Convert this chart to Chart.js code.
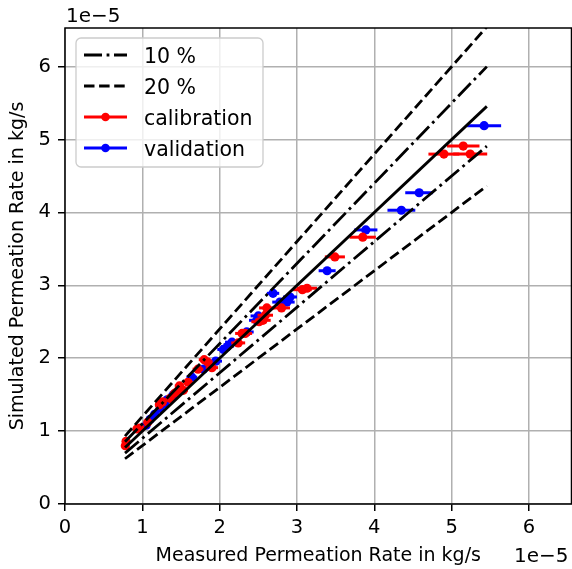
<!DOCTYPE html>
<html>
<head>
<meta charset="utf-8">
<script src="https://cdn.jsdelivr.net/npm/chart.js@4.4.0/dist/chart.umd.min.js"></script>
<style>
  html, body { margin: 0; padding: 0; background: #fff; }
  #wrap { width: 572px; height: 569px; }
</style>
</head>
<body>
<div id="wrap"><canvas id="chart" width="572" height="569"></canvas></div>
<script>
// all rates in units of 1e-5 kg/s
var calMeasured  = [0.78, 0.79, 0.93, 0.97, 1.07, 1.22, 1.26, 1.36, 1.42, 1.46, 1.48, 1.53, 1.59, 1.72, 1.80, 1.84, 1.90, 2.24, 2.29, 2.33, 2.51, 2.56, 2.59, 2.61, 2.80, 3.07, 3.13, 3.49, 3.85, 4.90, 5.15, 5.24];
var calSimulated = [0.80, 0.86, 1.03, 1.04, 1.12, 1.36, 1.40, 1.45, 1.52, 1.55, 1.62, 1.56, 1.67, 1.85, 1.98, 1.95, 1.87, 2.21, 2.34, 2.34, 2.50, 2.52, 2.59, 2.69, 2.69, 2.94, 2.96, 3.39, 3.66, 4.80, 4.91, 4.80];
var calErr       = [0.03, 0.03, 0.04, 0.04, 0.04, 0.05, 0.05, 0.05, 0.06, 0.06, 0.06, 0.06, 0.06, 0.07, 0.07, 0.07, 0.08, 0.09, 0.09, 0.09, 0.10, 0.10, 0.10, 0.10, 0.11, 0.12, 0.13, 0.13, 0.17, 0.20, 0.21, 0.22];

var valMeasured  = [1.05, 1.10, 1.16, 1.23, 1.29, 1.32, 1.40, 1.49, 1.64, 1.79, 1.95, 2.05, 2.10, 2.16, 2.35, 2.48, 2.50, 2.69, 2.78, 2.87, 2.91, 3.39, 3.89, 4.35, 4.58, 5.42];
var valSimulated = [1.08, 1.16, 1.23, 1.31, 1.38, 1.43, 1.50, 1.59, 1.74, 1.85, 1.96, 2.12, 2.16, 2.22, 2.36, 2.52, 2.58, 2.89, 2.77, 2.77, 2.84, 3.20, 3.76, 4.03, 4.27, 5.19];
var valErr       = [0.04, 0.04, 0.05, 0.05, 0.05, 0.05, 0.06, 0.06, 0.07, 0.07, 0.08, 0.08, 0.08, 0.09, 0.09, 0.10, 0.10, 0.08, 0.10, 0.10, 0.09, 0.11, 0.15, 0.18, 0.18, 0.22];

var lineEnds = [0.776, 5.455];
var tickValues = [0, 1, 2, 3, 4, 5, 6];
var legendLabels = ['10 %', '20 %', 'calibration', 'validation'];

var FONT = 'DejaVu Sans';
var dashDot = [18, 4.6, 2.8, 4.6];
var dashed = [10.5, 4.6];

function points(xs, ys) {
    return xs.map(function (v, i) { return { x: v, y: ys[i] }; });
}

function refLine(f) {
    return lineEnds.map(function (v) { return { x: v, y: v * f }; });
}

function lineSet(f, dash) {
    return {
        data: refLine(f),
        showLine: true,
        borderColor: '#000',
        borderWidth: 2.8,
        borderDash: dash,
        borderCapStyle: 'butt',
        pointRadius: 0
    };
}

function pointSet(xs, ys, err, color) {
    return {
        data: points(xs, ys),
        xErr: err,
        showLine: false,
        pointRadius: 4.6,
        pointBackgroundColor: color,
        pointBorderWidth: 0,
        backgroundColor: color,
        borderColor: color
    };
}

// horizontal error bars, drawn right before the markers of a dataset
var errorBars = {
    id: 'errorBars',
    beforeDatasetDraw: function (chart, args) {
        var ds = chart.data.datasets[args.index];
        if (!ds.xErr) return;
        var sx = chart.scales.x, sy = chart.scales.y, c = chart.ctx;
        c.save();
        c.strokeStyle = ds.backgroundColor;
        c.lineWidth = 3;
        ds.data.forEach(function (p, i) {
            var py = sy.getPixelForValue(p.y);
            c.beginPath();
            c.moveTo(sx.getPixelForValue(p.x - ds.xErr[i]), py);
            c.lineTo(sx.getPixelForValue(p.x + ds.xErr[i]), py);
            c.stroke();
        });
        c.restore();
    }
};

// axes frame, offset texts and a matplotlib style legend
var decorations = {
    id: 'decorations',
    afterDraw: function (chart) {
        var c = chart.ctx, a = chart.chartArea;
        c.save();
        c.strokeStyle = '#000';
        c.lineWidth = 1.5;
        c.strokeRect(a.left, a.top, a.right - a.left, a.bottom - a.top);

        c.fillStyle = '#000';
        c.font = '20px "' + FONT + '"';
        c.textBaseline = 'alphabetic';
        c.textAlign = 'left';
        c.fillText('1e\u22125', a.left + 1, 22);
        c.textAlign = 'right';
        c.fillText('1e\u22125', a.right - 3, 562);

        // legend box
        var bx = 76, by = 38, bw = 187, bh = 129, r = 5;
        c.beginPath();
        c.moveTo(bx + r, by);
        c.arcTo(bx + bw, by, bx + bw, by + bh, r);
        c.arcTo(bx + bw, by + bh, bx, by + bh, r);
        c.arcTo(bx, by + bh, bx, by, r);
        c.arcTo(bx, by, bx + bw, by, r);
        c.closePath();
        c.fillStyle = 'rgba(255,255,255,0.8)';
        c.fill();
        c.strokeStyle = '#cccccc';
        c.lineWidth = 1.3;
        c.stroke();

        var rows = [55, 86, 117, 148];
        var styles = [
            { dash: dashDot, color: '#000', marker: false },
            { dash: dashed, color: '#000', marker: false },
            { dash: [], color: '#ff0000', marker: true },
            { dash: [], color: '#0000ff', marker: true }
        ];
        c.font = '20.5px "' + FONT + '"';
        rows.forEach(function (y, i) {
            var s = styles[i];
            c.strokeStyle = s.color;
            c.lineWidth = 2.8;
            c.lineCap = 'butt';
            c.setLineDash(s.dash);
            c.beginPath();
            c.moveTo(84, y);
            c.lineTo(127, y);
            c.stroke();
            c.setLineDash([]);
            if (s.marker) {
                c.fillStyle = s.color;
                c.beginPath();
                c.arc(105.5, y, 4.3, 0, Math.PI * 2);
                c.fill();
            }
            c.fillStyle = '#000';
            c.textAlign = 'left';
            c.fillText(legendLabels[i], 144, y + 8);
        });
        c.restore();
    }
};

var tickFont = { family: FONT, size: 19.5 };
var titleFont = { family: FONT, size: 19 };

var chart = new Chart(document.getElementById('chart').getContext('2d'), {
    type: 'scatter',
    data: {
        datasets: [
            lineSet(1.0, []),
            lineSet(1.1, dashDot),
            lineSet(0.9, dashDot),
            lineSet(1.2, dashed),
            lineSet(0.8, dashed),
            pointSet(calMeasured, calSimulated, calErr, '#ff0000'),
            pointSet(valMeasured, valSimulated, valErr, '#0000ff')
        ]
    },
    options: {
        responsive: false,
        animation: false,
        devicePixelRatio: 1,
        layout: { autoPadding: false, padding: { top: 28, right: 0.5, left: 0, bottom: 0 } },
        plugins: {
            legend: { display: false },
            tooltip: { enabled: false }
        },
        scales: {
            x: {
                type: 'linear',
                min: 0,
                max: 6.55,
                afterFit: function (s) { s.height = 65; },
                afterBuildTicks: function (s) { s.ticks = tickValues.map(function (v) { return { value: v }; }); },
                border: { display: false },
                grid: { color: '#b0b0b0', lineWidth: 1.5, tickColor: '#000', tickLength: 7, tickWidth: 1.5 },
                ticks: { color: '#000', font: tickFont, padding: 5, maxRotation: 0 },
                title: {
                    display: true,
                    text: 'Measured Permeation Rate in kg/s',
                    color: '#000',
                    font: titleFont,
                    padding: { top: 0, bottom: 2 }
                }
            },
            y: {
                type: 'linear',
                min: 0,
                max: 6.53,
                afterFit: function (s) { s.width = 65; },
                afterBuildTicks: function (s) { s.ticks = tickValues.map(function (v) { return { value: v }; }); },
                border: { display: false },
                grid: { color: '#b0b0b0', lineWidth: 1.5, tickColor: '#000', tickLength: 7, tickWidth: 1.5 },
                ticks: { color: '#000', font: tickFont, padding: 7 },
                title: {
                    display: true,
                    text: 'Simulated Permeation Rate in kg/s',
                    color: '#000',
                    font: titleFont,
                    padding: { top: 7, bottom: 0 }
                }
            }
        }
    },
    plugins: [errorBars, decorations]
});
</script>
</body>
</html>
